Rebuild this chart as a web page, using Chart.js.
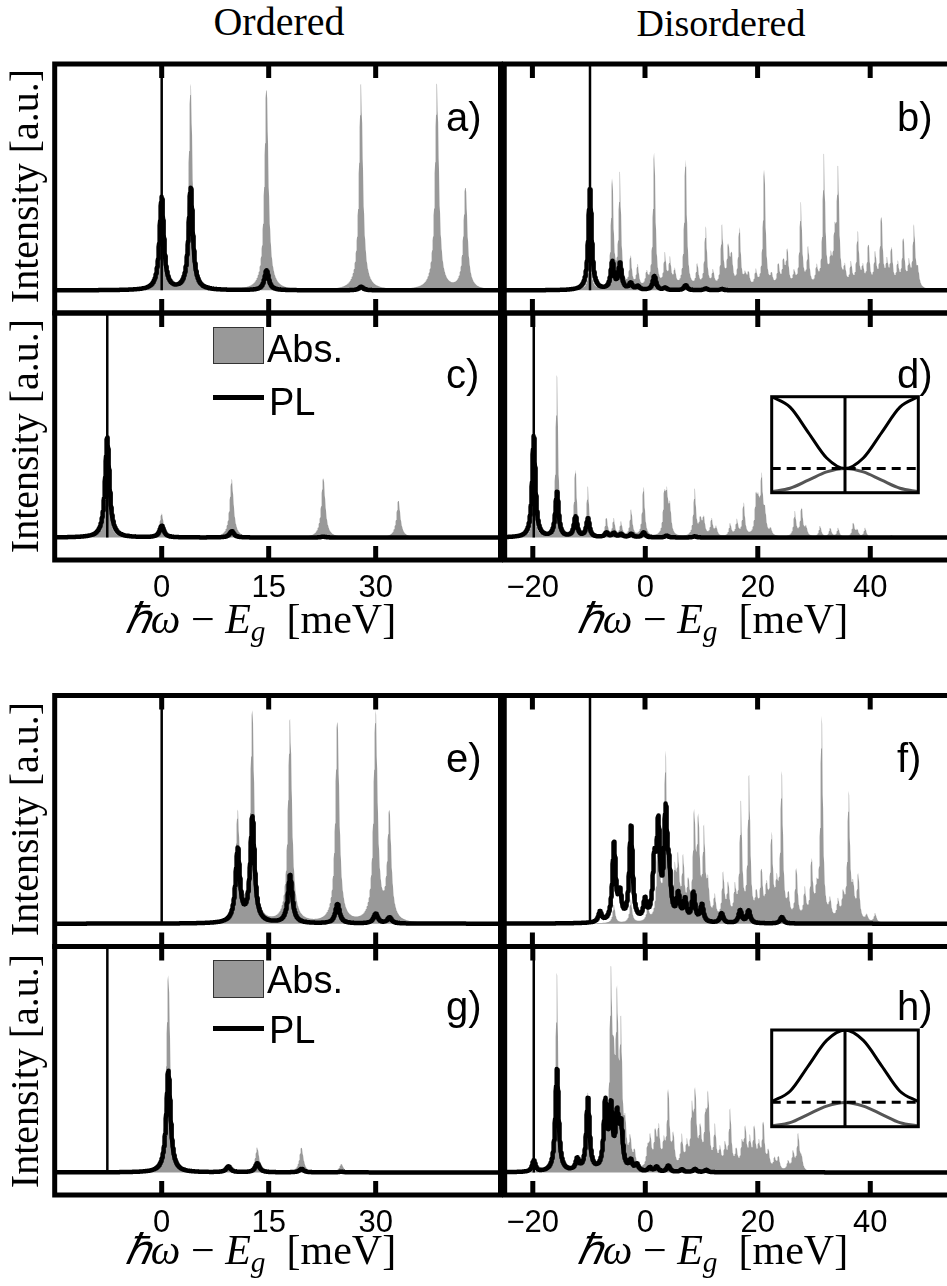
<!DOCTYPE html>
<html lang="en">
<head>
<meta charset="UTF-8">
<title>Absorption and PL spectra</title>
<script src="https://cdn.jsdelivr.net/npm/chart.js"></script>
<style>
    html, body { margin: 0; padding: 0; background: #fff; overflow: hidden; }
    #fig { position: relative; width: 947px; height: 1286px; overflow: hidden; }
    #fig canvas { position: absolute; }
    .txt { position: absolute; white-space: nowrap; color: #000; }
    .serif { font-family: "Liberation Serif", "Times New Roman", serif; }
    .sans { font-family: "Liberation Sans", Arial, sans-serif; }
    .lgbox { position: absolute; background: #999; border: 1px solid #333; box-sizing: border-box; }
    .lgline { position: absolute; background: #000; }
    sub { font-size: 0.7em; line-height: 0; vertical-align: -0.28em; }
</style>
</head>
<body>
<div id="fig"></div>
<script>
// energy axes (meV)
const TICKS_ORD = [0, 15, 30];
const TICKS_DIS = [-20, 0, 20, 40];
const RANGE_ORD = [-15, 47.5];
const RANGE_DIS = [-25, 55];

// spectral lines, [position meV, peak height]
const ABS_A = [[0, 0.3], [4.07, 0.91], [14.7, 0.91], [27.95, 0.91], [38.6, 0.91], [42.6, 0.46]];
const PL_A = [[0, 0.41], [4.07, 0.45], [14.7, 0.088], [27.95, 0.016]];

const ABS_B = [[-9.77, 0.2], [-5.8, 0.5], [-4.44, 0.5], [-2.55, 0.14], [-1.3, 0.1], [0.3, 0.06],
    [1.66, 0.62], [3.55, 0.14], [4.44, 0.12], [5.3, 0.07], [7.22, 0.6], [9.3, 0.1], [10.8, 0.27], [12.1, 0.07],
    [13.7, 0.27], [14.8, 0.17], [15.4, 0.13], [16.8, 0.27], [17.8, 0.05], [18.4, 0.06], [19.7, 0.07],
    [21.2, 0.55], [22.5, 0.05], [23.7, 0.1], [24.6, 0.11], [25.3, 0.16], [26.5, 0.06], [27.7, 0.37],
    [29.0, 0.17], [30.5, 0.08], [31.8, 0.58], [33.0, 0.1], [33.7, 0.19], [34.3, 0.5], [35.5, 0.08],
    [36.6, 0.1], [37.8, 0.24], [38.7, 0.08], [39.7, 0.19], [40.9, 0.14], [42.0, 0.32], [43.0, 0.1],
    [43.8, 0.17], [44.9, 0.1], [45.9, 0.22], [46.9, 0.1], [47.8, 0.27], [48.5, 0.07]];
const PL_B = [[-9.77, 0.445], [-5.8, 0.12], [-4.44, 0.113], [-2.55, 0.028], [-1.3, 0.016], [1.66, 0.062],
    [3.55, 0.01], [7.22, 0.022], [10.8, 0.008], [13.7, 0.006]];

const ABS_C = [[-7.63, 0.25], [0, 0.107], [9.82, 0.262], [22.67, 0.27], [33.2, 0.166]];
const PL_C = [[-7.63, 0.445], [0, 0.052], [9.82, 0.028], [22.67, 0.004]];

const ABS_D = [[-19.83, 0.25], [-15.7, 0.72], [-12.4, 0.31], [-10.2, 0.22], [-6.9, 0.085], [-5.6, 0.078],
    [-4.3, 0.063], [-2.5, 0.12], [-0.3, 0.23], [3.4, 0.17], [3.85, 0.16], [4.4, 0.12], [8.8, 0.21],
    [9.8, 0.07], [10.4, 0.08], [11.8, 0.078], [12.6, 0.04], [15.1, 0.056], [16.3, 0.07], [17.5, 0.15],
    [19.7, 0.15], [20.1, 0.11], [20.7, 0.25], [21.3, 0.09], [22.3, 0.03], [26.6, 0.11], [27.8, 0.13],
    [28.6, 0.04], [31.1, 0.049], [32.9, 0.041], [34.3, 0.04], [37.0, 0.063], [37.7, 0.03], [39.1, 0.041],
    [43.8, 0.01]];
const PL_D = [[-19.83, 0.45], [-15.7, 0.2], [-12.4, 0.09], [-10.2, 0.082], [-6.9, 0.02], [-5.6, 0.018],
    [-4.3, 0.014], [-2.5, 0.015], [-0.3, 0.022], [3.8, 0.008], [8.8, 0.005]];

const ABS_E = [[10.66, 0.476], [12.72, 0.926], [18.0, 0.889], [24.64, 0.889], [30.0, 0.926], [31.93, 0.476]];
const PL_E = [[10.66, 0.32], [12.72, 0.46], [18.0, 0.21], [24.64, 0.085], [30.0, 0.043], [31.93, 0.026]];

const ABS_F = [[-5.5, 0.08], [-2.5, 0.1], [0.5, 0.06], [2.37, 0.46], [3.67, 0.72], [4.4, 0.2], [5.3, 0.18],
    [5.9, 0.24], [6.8, 0.25], [7.7, 0.14], [8.76, 0.44], [9.5, 0.41], [10.5, 0.37], [11.2, 0.14],
    [12.4, 0.1], [13.9, 0.2], [14.8, 0.15], [16.0, 0.13], [17.05, 0.5], [18.5, 0.62], [19.8, 0.1],
    [20.7, 0.21], [21.6, 0.13], [22.5, 0.37], [23.4, 0.13], [24.3, 0.64], [25.5, 0.1], [26.9, 0.23],
    [28.4, 0.13], [29.6, 0.26], [30.5, 0.1], [31.4, 0.9], [32.9, 0.08], [34.3, 0.08], [35.2, 0.1],
    [36.2, 0.56], [37.0, 0.12], [37.9, 0.2], [39.4, 0.03], [40.9, 0.04]];
const PL_F = [[-8.0, 0.045], [-5.5, 0.34], [-4.44, 0.11], [-2.49, 0.415], [0, 0.085], [1.66, 0.23],
    [2.37, 0.39], [3.67, 0.45], [4.3, 0.17], [5.9, 0.11], [7.1, 0.09], [8.6, 0.125], [10.1, 0.075],
    [13.6, 0.042], [16.9, 0.055], [18.4, 0.055], [24.3, 0.028]];

const ABS_G = [[0.94, 0.885], [9.35, 0.03], [13.4, 0.11], [19.6, 0.11], [25.2, 0.037]];
const PL_G = [[0.94, 0.45], [9.35, 0.026], [13.4, 0.04], [19.6, 0.015], [25.2, 0.003]];

const ABS_H = [[-15.7, 0.88], [-12.1, 0.05], [-10.2, 0.34], [-7.1, 0.28], [-6.1, 0.78], [-5.6, 0.3],
    [-5.0, 0.66], [-4.3, 0.56], [-3.55, 0.15], [-2.66, 0.12], [-1.9, 0.07], [0.4, 0.08], [0.9, 0.13],
    [1.78, 0.15], [2.4, 0.17], [3.3, 0.1], [4.1, 0.35], [5.0, 0.14], [6.5, 0.14], [7.4, 0.1],
    [8.3, 0.24], [8.9, 0.32], [9.8, 0.16], [10.7, 0.19], [11.2, 0.3], [12.4, 0.18], [13.3, 0.08],
    [14.2, 0.1], [15.1, 0.26], [16.2, 0.08], [17.2, 0.1], [17.8, 0.17], [18.6, 0.12], [19.4, 0.18],
    [20.2, 0.1], [21.0, 0.21], [21.9, 0.08], [23.0, 0.05], [23.7, 0.06], [25.4, 0.04], [26.3, 0.08],
    [27.2, 0.16], [27.8, 0.05]];
const PL_H = [[-19.83, 0.05], [-15.7, 0.455], [-12.1, 0.05], [-10.2, 0.32], [-7.1, 0.29], [-6.1, 0.26],
    [-5.0, 0.22], [-4.3, 0.18], [-2.6, 0.042], [-1.5, 0.028], [0.8, 0.018], [2.0, 0.022], [4.1, 0.028],
    [6.5, 0.012], [8.8, 0.014], [10.8, 0.01]];

// thin vertical marker, one per panel a..h
const MARKS = [0, -9.77, -7.63, -19.83, 0, -9.77, -7.62, -19.83];

// band sketches in the insets of d) and h)
const INSET_K = [-1, -0.75, -0.5, -0.25, 0, 0.25, 0.5, 0.75, 1];
const INSET_D_UPPER = [1.0, 0.891, 0.627, 0.362, 0.253, 0.362, 0.627, 0.891, 1.0];
const INSET_D_LOWER = [0.01, 0.046, 0.13, 0.217, 0.253, 0.217, 0.13, 0.046, 0.01];
const INSET_D_LEVEL = 0.253;
const INSET_H_UPPER = [0.259, 0.367, 0.63, 0.892, 1.0, 0.892, 0.63, 0.367, 0.259];
const INSET_H_LOWER = [0.007, 0.042, 0.128, 0.213, 0.25, 0.213, 0.128, 0.042, 0.007];
const INSET_H_LEVEL = 0.252;

const ABS_COLOR = '#999999';
const STEP = 0.03;
const PAD = 8;
const AXH = 50;

const fig = document.getElementById('fig');

// columns: ordered / disordered
const COLS = [
    { l: 54.7, w: 445.8, range: RANGE_ORD, ticks: TICKS_ORD, gAbs: 0.33, gPl: 0.36 },
    { l: 504.25, w: 450.4, range: RANGE_DIS, ticks: TICKS_DIS, gAbs: 0.26, gPl: 0.34 }
];
const ROWS = [
    { t: 64, h: 249, axis: false },
    { t: 313, h: 247, axis: true },
    { t: 695.5, h: 251, axis: false },
    { t: 946.5, h: 248.5, axis: true }
];

// sum of Lorentzian lines sampled over the axis range
function spectrum(lines, gamma, range) {
    const xs = [];
    const n = Math.round((range[1] - range[0]) / STEP);
    for (let i = 0; i <= n; i++) xs.push(range[0] + i * STEP);
    lines.forEach(l => xs.push(l[0]));
    xs.sort((p, q) => p - q);
    return xs.map(x => ({
        x: x,
        y: lines.reduce((s, l) => s + l[1] / (1 + ((x - l[0]) / gamma) ** 2), 0)
    }));
}

// frame with inward ticks on top and bottom edge
const framePlugin = {
    id: 'frame',
    beforeDraw(chart, args, opts) {
        if (!opts.fillWhite) return;
        const a = chart.chartArea;
        chart.ctx.save();
        chart.ctx.fillStyle = '#fff';
        chart.ctx.fillRect(a.left, a.top, a.right - a.left, a.bottom - a.top);
        chart.ctx.restore();
    },
    afterDraw(chart, args, opts) {
        const ctx = chart.ctx, a = chart.chartArea, x = chart.scales.x;
        ctx.save();
        ctx.strokeStyle = '#000';
        ctx.lineWidth = opts.width;
        ctx.strokeRect(a.left, a.top, a.right - a.left, a.bottom - a.top);
        (opts.ticks || []).forEach(v => {
            const px = x.getPixelForValue(v);
            ctx.beginPath();
            ctx.moveTo(px, a.top);
            ctx.lineTo(px, a.top + opts.tick);
            ctx.moveTo(px, a.bottom);
            ctx.lineTo(px, a.bottom - opts.tick);
            ctx.stroke();
        });
        ctx.restore();
    }
};

function addCanvas(l, t, w, h, axisH) {
    const cl = Math.floor(l) - PAD, ct = Math.floor(t) - PAD;
    const cw = Math.ceil(l + w) + PAD - cl;
    const ch = Math.ceil(t + h) + (axisH || PAD) - ct;
    const cv = document.createElement('canvas');
    cv.width = cw; cv.height = ch;
    cv.style.left = cl + 'px'; cv.style.top = ct + 'px';
    cv.style.width = cw + 'px'; cv.style.height = ch + 'px';
    fig.appendChild(cv);
    const padding = {
        left: l - cl, top: t - ct, right: cl + cw - l - w,
        bottom: axisH ? Math.ceil(t + h) - (t + h) : ct + ch - t - h
    };
    return { cv, padding };
}

function drawPanel(idx, abs, pl) {
    const col = COLS[idx % 2], row = ROWS[Math.floor(idx / 2)];
    const { cv, padding } = addCanvas(col.l, row.t, col.w, row.h, row.axis ? AXH : 0);
    const mark = MARKS[idx];
    const xScale = {
        type: 'linear', min: col.range[0], max: col.range[1],
        display: row.axis,
        grid: { display: false, drawTicks: false },
        border: { display: false },
        afterBuildTicks: s => { s.ticks = col.ticks.map(v => ({ value: v })); },
        ticks: {
            padding: 10, color: '#000', autoSkip: false, maxRotation: 0,
            font: { family: 'Liberation Sans', size: 31 },
            callback: v => v < 0 ? '\u2212' + (-v) : String(v)
        }
    };
    if (row.axis) xScale.afterFit = s => { s.height = AXH; };
    new Chart(cv, {
        type: 'line',
        data: {
            datasets: [
                { data: [{ x: mark, y: 0 }, { x: mark, y: 1.3 }], borderColor: '#000', borderWidth: 2.5, order: 0 },
                { data: spectrum(pl, col.gPl, col.range), borderColor: '#000', borderWidth: 4.5,
                  borderJoinStyle: 'round', borderCapStyle: 'round', order: 1 },
                { data: spectrum(abs, col.gAbs, col.range), borderColor: 'rgba(0,0,0,0)', borderWidth: 0,
                  backgroundColor: ABS_COLOR, fill: 'origin', order: 2 }
            ]
        },
        options: {
            responsive: false,
            animation: false,
            events: [],
            parsing: false,
            normalized: true,
            layout: { padding: padding },
            elements: { point: { radius: 0 }, line: { tension: 0 } },
            plugins: {
                legend: { display: false },
                tooltip: { enabled: false },
                frame: { width: 5, tick: 14, ticks: col.ticks }
            },
            scales: {
                x: xScale,
                y: { min: -0.1, max: 1.0, display: false }
            }
        },
        plugins: [framePlugin]
    });
}

function drawInset(l, t, w, h, upper, lower, level) {
    const { cv, padding } = addCanvas(l, t, w, h, 0);
    const pts = ys => INSET_K.map((k, i) => ({ x: k, y: ys[i] }));
    new Chart(cv, {
        type: 'line',
        data: {
            datasets: [
                { data: [{ x: 0, y: 0 }, { x: 0, y: 1 }], borderColor: '#000', borderWidth: 3 },
                { data: [{ x: -1, y: level }, { x: 1, y: level }], borderColor: '#000', borderWidth: 3, borderDash: [9, 6] },
                { data: pts(upper), borderColor: '#000', borderWidth: 3, cubicInterpolationMode: 'monotone' },
                { data: pts(lower), borderColor: '#555', borderWidth: 3, cubicInterpolationMode: 'monotone' }
            ]
        },
        options: {
            responsive: false, animation: false, events: [], parsing: false,
            layout: { padding: padding },
            elements: { point: { radius: 0 } },
            plugins: {
                legend: { display: false }, tooltip: { enabled: false },
                frame: { width: 3, tick: 0, ticks: [], fillWhite: true }
            },
            scales: {
                x: { type: 'linear', min: -1, max: 1, display: false },
                y: { min: 0, max: 1, display: false }
            }
        },
        plugins: [framePlugin]
    });
}

function addText(html, cls, x, base, size, align) {
    const d = document.createElement('div');
    d.className = 'txt ' + cls;
    d.innerHTML = html;
    d.style.fontSize = size + 'px';
    d.style.lineHeight = size + 'px';
    d.style.left = x + 'px';
    d.style.top = (base - (cls === 'serif' ? 0.838 : 0.846) * size) + 'px';
    if (align === 'center') d.style.transform = 'translateX(-50%)';
    fig.appendChild(d);
    return d;
}

function addYLabel(cx, cy) {
    const d = document.createElement('div');
    d.className = 'txt serif';
    d.textContent = 'Intensity [a.u.]';
    d.style.fontSize = '40px';
    d.style.lineHeight = '40px';
    d.style.left = cx + 'px';
    d.style.top = cy + 'px';
    d.style.transform = 'translate(-50%, -50%) rotate(-90deg)';
    fig.appendChild(d);
}

function addBox(cls, l, t, w, h) {
    const d = document.createElement('div');
    d.className = cls;
    d.style.left = l + 'px'; d.style.top = t + 'px';
    d.style.width = w + 'px'; d.style.height = h + 'px';
    fig.appendChild(d);
}

[[ABS_A, PL_A], [ABS_B, PL_B], [ABS_C, PL_C], [ABS_D, PL_D],
 [ABS_E, PL_E], [ABS_F, PL_F], [ABS_G, PL_G], [ABS_H, PL_H]].forEach((p, i) => drawPanel(i, p[0], p[1]));

drawInset(771.7, 396.7, 146.6, 96, INSET_D_UPPER, INSET_D_LOWER, INSET_D_LEVEL);
drawInset(771.7, 1030, 146.6, 96.7, INSET_H_UPPER, INSET_H_LOWER, INSET_H_LEVEL);

// column headers
addText('Ordered', 'serif', 279, 36, 40, 'center');
addText('Disordered', 'serif', 721, 36, 38, 'center');

// y labels
[186, 436, 819, 1071].forEach(cy => addYLabel(25, cy));

// x titles
const XTITLE = '<i>ℏω</i> − <i>E</i><sub><i>g</i></sub>&nbsp;&nbsp;[meV]';
[[260.5, 633], [712.5, 633], [260.5, 1264], [712.5, 1264]].forEach(p => addText(XTITLE, 'serif', p[0], p[1], 42, 'center'));

// panel letters
const LETTERS = ['a)', 'b)', 'c)', 'd)', 'e)', 'f)', 'g)', 'h)'];
const LETTER_BASE = [131, 388, 771.7, 1020];
LETTERS.forEach((s, i) => addText(s, 'sans', i % 2 ? 897 : 446, LETTER_BASE[Math.floor(i / 2)], 40));

// legends in c) and g)
addBox('lgbox', 212.7, 326.7, 51.3, 37.6);
addBox('lgline', 212.7, 395, 51.3, 5);
addText('Abs.', 'sans', 267, 361.7, 38);
addText('PL', 'sans', 269, 415, 38);
addBox('lgbox', 212.7, 960, 51.3, 38);
addBox('lgline', 212.7, 1025.8, 51.3, 5);
addText('Abs.', 'sans', 267, 993.3, 38);
addText('PL', 'sans', 269, 1043.3, 38);
</script>
</body>
</html>
